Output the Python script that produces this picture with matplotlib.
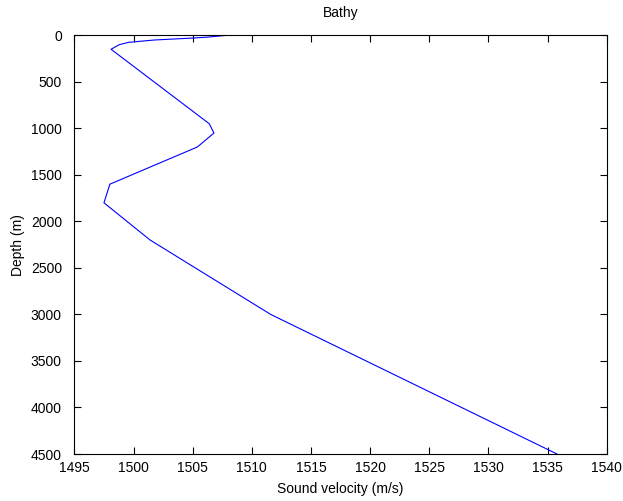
import matplotlib
matplotlib.use("Agg")
import matplotlib.pyplot as plt

# Sound velocity profile (m/s) against depth (m)
depth_m = [0, 20, 30, 50, 75, 100, 150, 950, 1050, 1200, 1600, 1800, 2200, 3000, 4500]
velocity_ms = [1507.9, 1506.2, 1504.9, 1501.8, 1499.6, 1498.8, 1498.1,
               1506.4, 1506.8, 1505.4, 1498.0, 1497.5, 1501.4, 1511.6, 1535.8]

x_ticks = list(range(1495, 1541, 5))
y_ticks = list(range(0, 4501, 500))

plt.rcParams['font.family'] = ['Liberation Sans', 'DejaVu Sans']

fig = plt.figure(figsize=(6.23, 5.01), dpi=100)
ax = fig.add_axes([0.1194, 0.0938, 0.8544, 0.8357])

ax.plot(velocity_ms, depth_m, color=(0, 0, 1), linewidth=0.8)

ax.set_xlim(1495, 1540)
ax.set_ylim(4500, 0)
ax.set_xticks(x_ticks)
ax.set_yticks(y_ticks)
ax.tick_params(direction='in', length=5, width=0.8, top=True, right=True,
               labelsize=10, colors='black')
ax.tick_params(axis='y', pad=9)
ax.tick_params(axis='x', pad=5)
for s in ax.spines.values():
    s.set_linewidth(0.8)

ax.set_title('Bathy', fontsize=10, pad=13)
ax.set_xlabel('Sound velocity (m/s)', fontsize=10, labelpad=5)
ax.set_ylabel('Depth (m)', fontsize=10, labelpad=4)

fig.savefig('out.png', dpi=100, facecolor='white')
